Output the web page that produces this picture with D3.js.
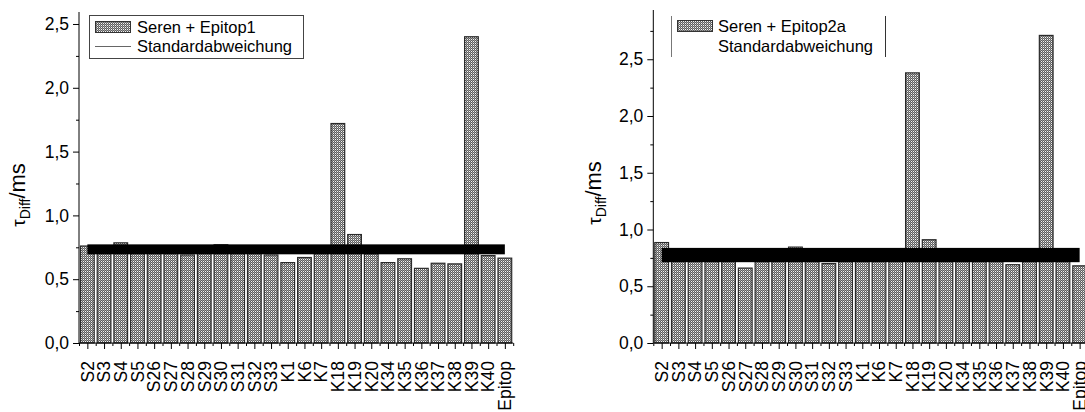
<!DOCTYPE html>
<html>
<head>
<meta charset="utf-8">
<script src="https://cdn.jsdelivr.net/npm/d3@7"></script>
<style>
  html, body { margin: 0; padding: 0; background: #fff; }
  svg { display: block; font-family: "Liberation Sans", Arial, sans-serif; }
</style>
</head>
<body>
<svg id="chart" width="1085" height="412"></svg>
<script>
// ---------- data ----------
const categories = ["S2","S3","S4","S5","S26","S27","S28","S29","S30","S31","S32","S33",
  "K1","K6","K7","K18","K19","K20","K34","K35","K36","K37","K38","K39","K40","Epitop"];
const values1 = [0.76,0.73,0.785,0.74,0.73,0.73,0.69,0.74,0.77,0.74,0.73,0.69,
  0.63,0.67,0.72,1.72,0.85,0.70,0.63,0.66,0.585,0.625,0.62,2.40,0.685,0.665];
const values2 = [0.885,0.76,0.76,0.76,0.76,0.66,0.76,0.76,0.845,0.76,0.70,0.76,
  0.76,0.76,0.76,2.38,0.91,0.76,0.76,0.76,0.76,0.69,0.76,2.71,0.76,0.68];
const stdMean1 = 0.734, stdDev1 = 0.039;
const stdMean2 = 0.775, stdDev2 = 0.063;
const yTicks1 = [0, 0.5, 1.0, 1.5, 2.0, 2.5];
const yMinor1 = [0.25, 0.75, 1.25, 1.75, 2.25];
const yTicks2 = [0, 0.5, 1.0, 1.5, 2.0, 2.5];
const yMinor2 = [0.25, 0.75, 1.25, 1.75, 2.25, 2.75];
const seriesNames = ["Seren + Epitop1", "Seren + Epitop2a"];
const stdName = "Standardabweichung";

// ---------- drawing ----------
const svg = d3.select("#chart");
const defs = svg.append("defs");
const pat = defs.append("pattern").attr("id", "dots")
  .attr("patternUnits", "userSpaceOnUse").attr("x", 0).attr("y", 0)
  .attr("width", 2).attr("height", 2);
pat.append("rect").attr("width", 2).attr("height", 2).attr("fill", "#5e5e5e");
pat.append("rect").attr("x", 1).attr("y", 1).attr("width", 1).attr("height", 1).attr("fill", "#f4f4f4");
pat.append("rect").attr("x", 0).attr("y", 0).attr("width", 1).attr("height", 1).attr("fill", "#9a9a9a");

const fmt = d => d3.format(".1f")(d).replace(".", ",");

function panel(cfg) {
  const g = svg.append("g");
  const n = categories.length;
  const x = d3.scaleBand().domain(categories).range([cfg.x0, cfg.x1])
    .paddingInner(0.18).paddingOuter(0.09);
  const xi = d3.scaleLinear().domain([0, n]).range([cfg.x0, cfg.x1]);
  const y = d3.scaleLinear().domain([0, cfg.yMax]).range([cfg.yBottom, cfg.yTop]);

  // bars
  g.append("g").selectAll("rect").data(cfg.values).join("rect")
    .attr("x", (d, i) => x(categories[i]))
    .attr("width", x.bandwidth())
    .attr("y", d => y(d))
    .attr("height", d => y(0) - y(d))
    .attr("fill", "url(#dots)")
    .attr("stroke", "#2a2a2a")
    .attr("stroke-width", 1.2);

  // standard deviation band
  g.append("rect")
    .attr("x", xi(0.5))
    .attr("width", xi(n - 0.5) - xi(0.5))
    .attr("y", y(cfg.mean + cfg.sd))
    .attr("height", y(cfg.mean - cfg.sd) - y(cfg.mean + cfg.sd))
    .attr("fill", "#000");

  // y axis
  const ya = g.append("g").attr("transform", `translate(${cfg.x0},0)`)
    .call(d3.axisLeft(y).tickValues(cfg.yTicks).tickFormat(fmt).tickSize(6).tickPadding(4));
  ya.select(".domain").attr("d", `M0,${cfg.yBottom}V${cfg.yTop}`);
  g.append("g").attr("transform", `translate(${cfg.x0},0)`)
    .call(d3.axisLeft(y).tickValues(cfg.yMinor).tickFormat("").tickSize(3))
    .select(".domain").remove();

  // x axis
  const xa = g.append("g").attr("transform", `translate(0,${cfg.yBottom})`)
    .call(d3.axisBottom(xi).tickValues(d3.range(n).map(i => i + 0.5)).tickFormat("").tickSize(6));
  xa.select(".domain").attr("d", `M${cfg.x0},0H${cfg.x1}`);
  g.append("g").attr("transform", `translate(0,${cfg.yBottom})`)
    .call(d3.axisBottom(xi).tickValues(d3.range(n + 1)).tickFormat("").tickSize(3))
    .select(".domain").remove();

  g.selectAll(".tick text").attr("font-size", 17.5).attr("fill", "#000")
    .attr("font-family", "Liberation Sans, Arial, sans-serif");
  g.selectAll(".tick line, .domain").attr("stroke", "#000");

  // x labels (rotated)
  g.append("g").selectAll("text").data(categories).join("text")
    .attr("transform", d => `translate(${x(d) + x.bandwidth() / 2},${cfg.yBottom + 18}) rotate(-90)`)
    .attr("text-anchor", "end")
    .attr("dy", "0.36em")
    .attr("font-size", 17.5)
    .text(d => d);

  // y title
  const t = g.append("text")
    .attr("transform", `translate(${cfg.titleX},${cfg.titleY}) rotate(-90)`)
    .attr("text-anchor", "middle")
    .attr("font-size", 22);
  t.append("tspan").attr("font-size", 19).text("τ");
  t.append("tspan").attr("font-size", 14).attr("dy", 5).text("Diff");
  t.append("tspan").attr("dy", -5).text("/ms");

  return { g, x, y };
}

// left panel
const p1 = panel({ x0: 79, x1: 513.2, yBottom: 343, yTop: 12, yMax: 2.594,
  values: values1, mean: stdMean1, sd: stdDev1, yTicks: yTicks1, yMinor: yMinor1,
  titleX: 25, titleY: 195 });
// right panel
const p2 = panel({ x0: 653.3, x1: 1088, yBottom: 343, yTop: 10, yMax: 2.934,
  values: values2, mean: stdMean2, sd: stdDev2, yTicks: yTicks2, yMinor: yMinor2,
  titleX: 601, titleY: 193 });

// legend left
const L1 = svg.append("g");
L1.append("rect").attr("x", 89.5).attr("y", 15.5).attr("width", 214).attr("height", 43)
  .attr("fill", "#fff").attr("stroke", "#444").attr("stroke-width", 1);
L1.append("rect").attr("x", 95.5).attr("y", 21.5).attr("width", 35).attr("height", 11)
  .attr("fill", "url(#dots)").attr("stroke", "#333");
L1.append("text").attr("x", 137).attr("y", 32.5).attr("font-size", 16.5).text(seriesNames[0]);
L1.append("line").attr("x1", 95).attr("x2", 131).attr("y1", 46.5).attr("y2", 46.5)
  .attr("stroke", "#666").attr("stroke-width", 1);
L1.append("text").attr("x", 137).attr("y", 52).attr("font-size", 16.5).text(stdName);

// legend right
const L2 = svg.append("g");
L2.append("line").attr("x1", 671.5).attr("x2", 671.5).attr("y1", 16).attr("y2", 57)
  .attr("stroke", "#777");
L2.append("line").attr("x1", 885.5).attr("x2", 885.5).attr("y1", 16).attr("y2", 57)
  .attr("stroke", "#333");
L2.append("rect").attr("x", 677.5).attr("y", 20.5).attr("width", 35).attr("height", 11)
  .attr("fill", "url(#dots)").attr("stroke", "#333");
L2.append("text").attr("x", 718).attr("y", 32).attr("font-size", 16.5).text(seriesNames[1]);
L2.append("text").attr("x", 718).attr("y", 52).attr("font-size", 16.5).text(stdName);
</script>
</body>
</html>
